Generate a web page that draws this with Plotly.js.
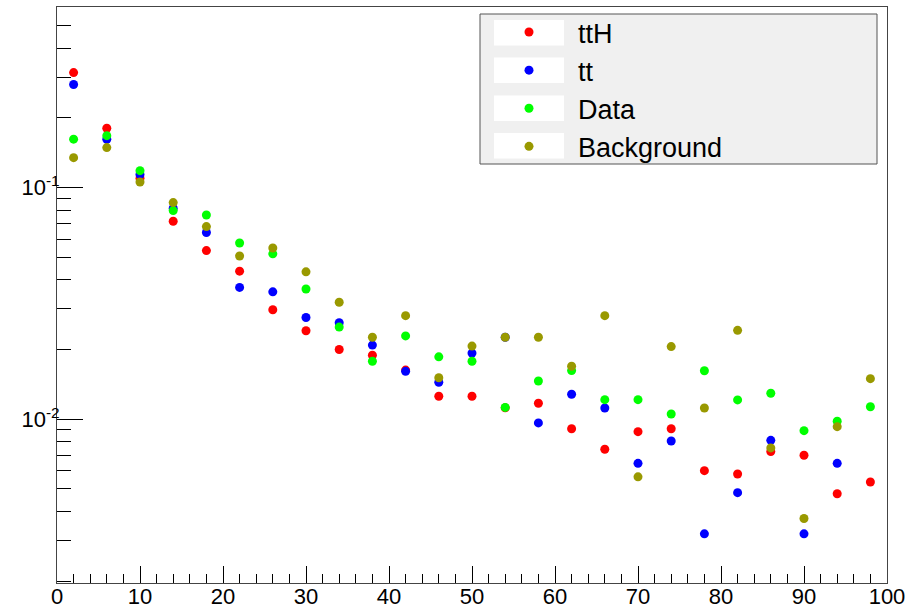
<!DOCTYPE html>
<html>
<head>
<meta charset="utf-8">
<script src="https://cdn.plot.ly/plotly-3.0.1.min.js"></script>
<style>html,body{margin:0;padding:0;background:#fff;}#chart{width:910px;height:610px;}</style>
</head>
<body>
<div id="chart"></div>
<script>
var binCenters = [2, 6, 10, 14, 18, 22, 26, 30, 34, 38, 42, 46, 50, 54, 58, 62, 66, 70, 74, 78, 82, 86, 90, 94, 98];
var seriesNames = ["ttH", "tt", "Data", "Background"];
var ttH = [0.314, 0.1805, 0.1098, 0.0716, 0.0535, 0.0436, 0.0297, 0.0241, 0.0200, 0.0189, 0.0163, 0.01257, 0.01257, 0.0112, 0.01173, 0.0091, 0.00742, 0.00884, 0.0091, 0.0060, 0.0058, 0.00725, 0.00699, 0.00477, 0.00536];
var tt = [0.279, 0.1618, 0.114, 0.0815, 0.0640, 0.0371, 0.0355, 0.0275, 0.0261, 0.0209, 0.0161, 0.01445, 0.0193, 0.0226, 0.00964, 0.01282, 0.01119, 0.00645, 0.00806, 0.0032, 0.00482, 0.00811, 0.0032, 0.00645, null];
var dataVals = [0.162, 0.1677, 0.1184, 0.0796, 0.0762, 0.0577, 0.0518, 0.0365, 0.0250, 0.0178, 0.0229, 0.0186, 0.0178, 0.01125, 0.01463, 0.01622, 0.01215, 0.01215, 0.01054, 0.0162, 0.01212, 0.01295, 0.00893, 0.0098, 0.01133];
var background = [0.1347, 0.1489, 0.1058, 0.0862, 0.0679, 0.0507, 0.0549, 0.0433, 0.0320, 0.0226, 0.0280, 0.0151, 0.0207, 0.0226, 0.0226, 0.01694, 0.0280, 0.00564, 0.0206, 0.01119, 0.0242, 0.00752, 0.00373, 0.00929, 0.01497];
var colors = ["#ff0000", "#0000ff", "#00ff00", "#999900"];
var yTickVals = [0.01, 0.1];
var yTickText = ["10<sup>-2</sup>", "10<sup>-1</sup>"];

var allSeries = [ttH, tt, dataVals, background];
var FONT = "Liberation Sans, Arial, Helvetica, sans-serif";

var traces = allSeries.map(function (vals, i) {
  return {
    type: "scatter",
    mode: "markers",
    name: seriesNames[i],
    x: binCenters,
    y: vals,
    marker: { color: colors[i], size: 9, line: { width: 0 } },
    hoverinfo: "x+y+name"
  };
});

// legend decoration (paper coords)
var L = 57, R = 887, T = 7, B = 583;
function px(x) { return (x - L) / (R - L); }
function py(y) { return (B - y) / (B - T); }
var shapes = [{
  type: "rect", xref: "paper", yref: "paper", layer: "above",
  x0: px(480), x1: px(877), y0: py(164), y1: py(14),
  fillcolor: "#f0f0f0", line: { color: "#555555", width: 1 }
}];
var rowCenters = [32.7, 70.3, 108.3, 145.7];
rowCenters.forEach(function (c) {
  shapes.push({
    type: "rect", xref: "paper", yref: "paper", layer: "above",
    x0: px(494), x1: px(564), y0: py(c + 12.8), y1: py(c - 12.8),
    fillcolor: "#ffffff", line: { width: 0 }
  });
});

var layout = {
  width: 910, height: 610,
  margin: { l: L, r: 910 - R, t: T, b: 610 - B, pad: 0 },
  paper_bgcolor: "#ffffff",
  plot_bgcolor: "#ffffff",
  font: { family: FONT, color: "#000000", size: 22 },
  showlegend: true,
  legend: {
    x: px(480), y: py(8), xanchor: "left", yanchor: "top",
    bgcolor: "rgba(0,0,0,0)", borderwidth: 0,
    font: { family: FONT, size: 27, color: "#000000" },
    itemwidth: 88,
    tracegroupgap: 0
  },
  xaxis: {
    range: [0, 100],
    showgrid: false, zeroline: false,
    showline: true, linecolor: "#444444", linewidth: 1, mirror: true,
    ticks: "inside", dtick: 10, tick0: 0, ticklen: 17, tickcolor: "#000000", tickwidth: 1,
    minor: { ticks: "inside", dtick: 2, ticklen: 9, tickcolor: "#000000", tickwidth: 1 },
    tickfont: { family: FONT, size: 22, color: "#000000" },
    ticklabelstandoff: -6
  },
  yaxis: {
    type: "log",
    range: [-2.707, -0.220],
    showgrid: false, zeroline: false,
    showline: true, linecolor: "#444444", linewidth: 1, mirror: true,
    ticks: "inside", tickmode: "array", tickvals: yTickVals, ticktext: yTickText,
    ticklen: 26, tickcolor: "#000000", tickwidth: 1,
    minor: { ticks: "inside", dtick: "D1", ticklen: 14, tickcolor: "#000000", tickwidth: 1 },
    tickfont: { family: FONT, size: 22, color: "#000000" },
    ticklabelstandoff: -8
  },
  shapes: shapes
};

Plotly.newPlot("chart", traces, layout, { displayModeBar: false, staticPlot: false });
</script>
</body>
</html>
